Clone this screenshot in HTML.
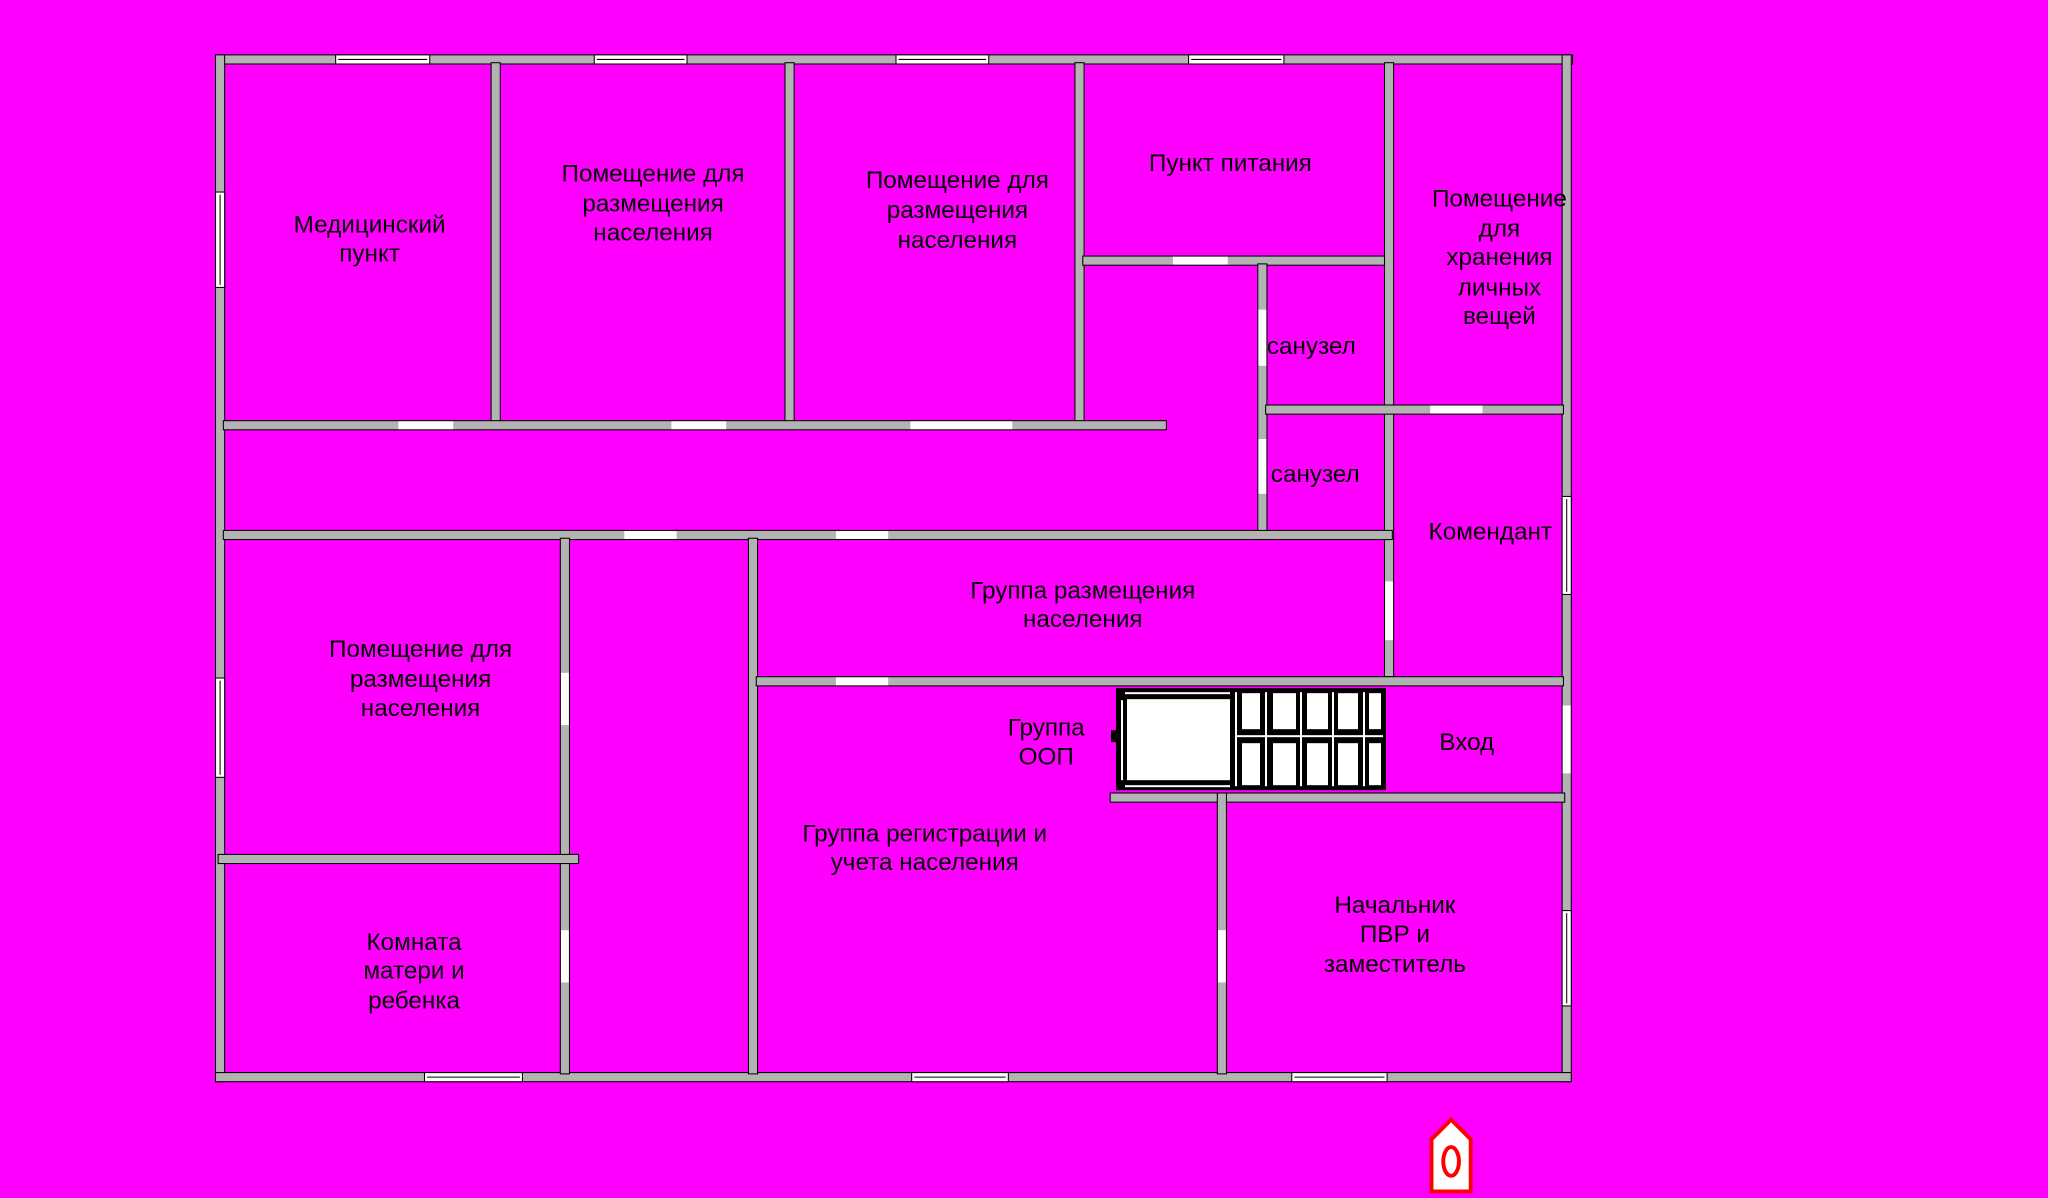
<!DOCTYPE html>
<html><head><meta charset="utf-8"><style>
html,body{margin:0;padding:0;background:#ff00ff;}
svg{display:block;}
text{font-family:"Liberation Sans",sans-serif;font-size:18.6px;fill:#000;text-anchor:middle;}
</style></head><body>
<svg width="2048" height="1198" viewBox="0 0 1568 917" preserveAspectRatio="none" xmlns="http://www.w3.org/2000/svg">
<rect x="0" y="0" width="1568" height="917" fill="#ff00ff"/>
<g fill="#b3b3b3" stroke="#000" stroke-width="0.8">
<rect x="165" y="42" width="1039" height="7"/>
<rect x="165" y="42" width="7" height="786"/>
<rect x="1196" y="42" width="7" height="786"/>
<rect x="165" y="821" width="1038" height="7"/>
<rect x="376" y="48" width="7" height="278"/>
<rect x="601" y="48" width="7" height="278"/>
<rect x="823" y="48" width="7" height="278"/>
<rect x="1060" y="48" width="7" height="470"/>
<rect x="171" y="322" width="722" height="7"/>
<rect x="829" y="196" width="231" height="7"/>
<rect x="963" y="202" width="7" height="210"/>
<rect x="969" y="310" width="228" height="7"/>
<rect x="171" y="406" width="895" height="7"/>
<rect x="429" y="412" width="7" height="410"/>
<rect x="167" y="654" width="276" height="7"/>
<rect x="573" y="412" width="7" height="410"/>
<rect x="579" y="518" width="618" height="7"/>
<rect x="850" y="607" width="348" height="7"/>
<rect x="932" y="607" width="7" height="215"/>
</g>
<g fill="#fff" stroke="#000" stroke-width="0.8">
<rect x="257" y="42" width="72" height="7"/><rect x="455" y="42" width="71" height="7"/>
<rect x="686" y="42" width="71" height="7"/><rect x="910" y="42" width="73" height="7"/>
<rect x="165" y="147" width="7" height="73"/><rect x="165" y="519" width="7" height="76"/>
<rect x="325" y="821" width="75" height="7"/><rect x="698" y="821" width="74" height="7"/>
<rect x="989" y="821" width="73" height="7"/>
<rect x="1196" y="380" width="7" height="75"/><rect x="1196" y="697" width="7" height="73"/>
</g>
<g stroke="#000" stroke-width="0.8">
<line x1="259" y1="45.5" x2="327" y2="45.5"/><line x1="457" y1="45.5" x2="524" y2="45.5"/>
<line x1="688" y1="45.5" x2="755" y2="45.5"/><line x1="912" y1="45.5" x2="981" y2="45.5"/>
<line x1="168.5" y1="149" x2="168.5" y2="218"/><line x1="168.5" y1="521" x2="168.5" y2="593"/>
<line x1="327" y1="824.5" x2="398" y2="824.5"/><line x1="700" y1="824.5" x2="770" y2="824.5"/>
<line x1="991" y1="824.5" x2="1060" y2="824.5"/>
<line x1="1199.5" y1="382" x2="1199.5" y2="453"/><line x1="1199.5" y1="699" x2="1199.5" y2="768"/>
</g>
<g fill="#fff">
<rect x="305" y="322.5" width="42" height="6"/><rect x="514" y="322.5" width="42" height="6"/>
<rect x="697" y="322.5" width="78" height="6"/><rect x="898" y="196.5" width="42" height="6"/>
<rect x="963.5" y="237" width="6" height="43"/><rect x="963.5" y="336" width="6" height="42"/>
<rect x="1095" y="310.5" width="40" height="6"/>
<rect x="478" y="406.5" width="40" height="6"/><rect x="640" y="406.5" width="40" height="6"/>
<rect x="429.5" y="515" width="6" height="40"/><rect x="429.5" y="712" width="6" height="40"/>
<rect x="640" y="518.5" width="40" height="6"/><rect x="932.5" y="712" width="6" height="40"/>
<rect x="1060.5" y="445" width="6" height="45"/>
<rect x="1196.5" y="540" width="6" height="52"/>
</g>
<g transform="scale(0.765625)">
<rect x="1116" y="688" width="270" height="102" fill="#000"/>
<rect x="1127" y="699" width="103" height="81" fill="#fff"/>
<rect x="1125" y="692" width="105" height="2" fill="#fff"/>
<rect x="1125" y="785" width="105" height="2" fill="#fff"/>
<rect x="1121" y="700" width="2" height="80" fill="#fff"/>
<rect x="1111" y="730" width="6" height="12" fill="#000"/>
<g fill="#fff">
<rect x="1242" y="693" width="18" height="36"/><rect x="1273" y="693" width="23" height="36"/>
<rect x="1307" y="693" width="21" height="36"/><rect x="1338" y="693" width="20" height="36"/>
<rect x="1369" y="693" width="12" height="36"/>
<rect x="1242" y="743" width="18" height="42"/><rect x="1273" y="743" width="23" height="42"/>
<rect x="1307" y="743" width="21" height="42"/><rect x="1338" y="743" width="20" height="42"/>
<rect x="1369" y="743" width="12" height="42"/>
<rect x="1235" y="735" width="148" height="2"/>
<rect x="1235" y="692" width="2" height="94"/><rect x="1265" y="692" width="2" height="94"/>
<rect x="1300" y="692" width="2" height="94"/><rect x="1332" y="692" width="2" height="94"/>
<rect x="1363" y="692" width="2" height="94"/>
</g>
</g>
<polygon points="1096,872 1111,857 1126,872 1126,912 1096,912" fill="#fff" stroke="#f00" stroke-width="3"/>
<ellipse cx="1111" cy="889" rx="6" ry="11" fill="none" stroke="#f00" stroke-width="3"/>
<g>
<text x="283" y="178">Медицинский</text><text x="283" y="200">пункт</text>
<text x="500" y="139">Помещение для</text><text x="500" y="162">размещения</text><text x="500" y="184">населения</text>
<text x="733" y="144">Помещение для</text><text x="733" y="167">размещения</text><text x="733" y="190">населения</text>
<text x="942" y="131">Пункт питания</text>
<text x="1148" y="158">Помещение</text><text x="1148" y="181">для</text><text x="1148" y="203">хранения</text><text x="1148" y="226">личных</text><text x="1148" y="248">вещей</text>
<text x="1004" y="271">санузел</text><text x="1007" y="369">санузел</text>
<text x="1141" y="413">Комендант</text>
<text x="829" y="458">Группа размещения</text><text x="829" y="480">населения</text>
<text x="322" y="503">Помещение для</text><text x="322" y="526">размещения</text><text x="322" y="548">населения</text>
<text x="801" y="563">Группа</text><text x="801" y="585">ООП</text>
<text x="1123" y="574">Вход</text>
<text x="708" y="644">Группа регистрации и</text><text x="708" y="666">учета населения</text>
<text x="1068" y="699">Начальник</text><text x="1068" y="721">ПВР и</text><text x="1068" y="744">заместитель</text>
<text x="317" y="727">Комната</text><text x="317" y="749">матери и</text><text x="317" y="772">ребенка</text>
</g>
</svg>
</body></html>
